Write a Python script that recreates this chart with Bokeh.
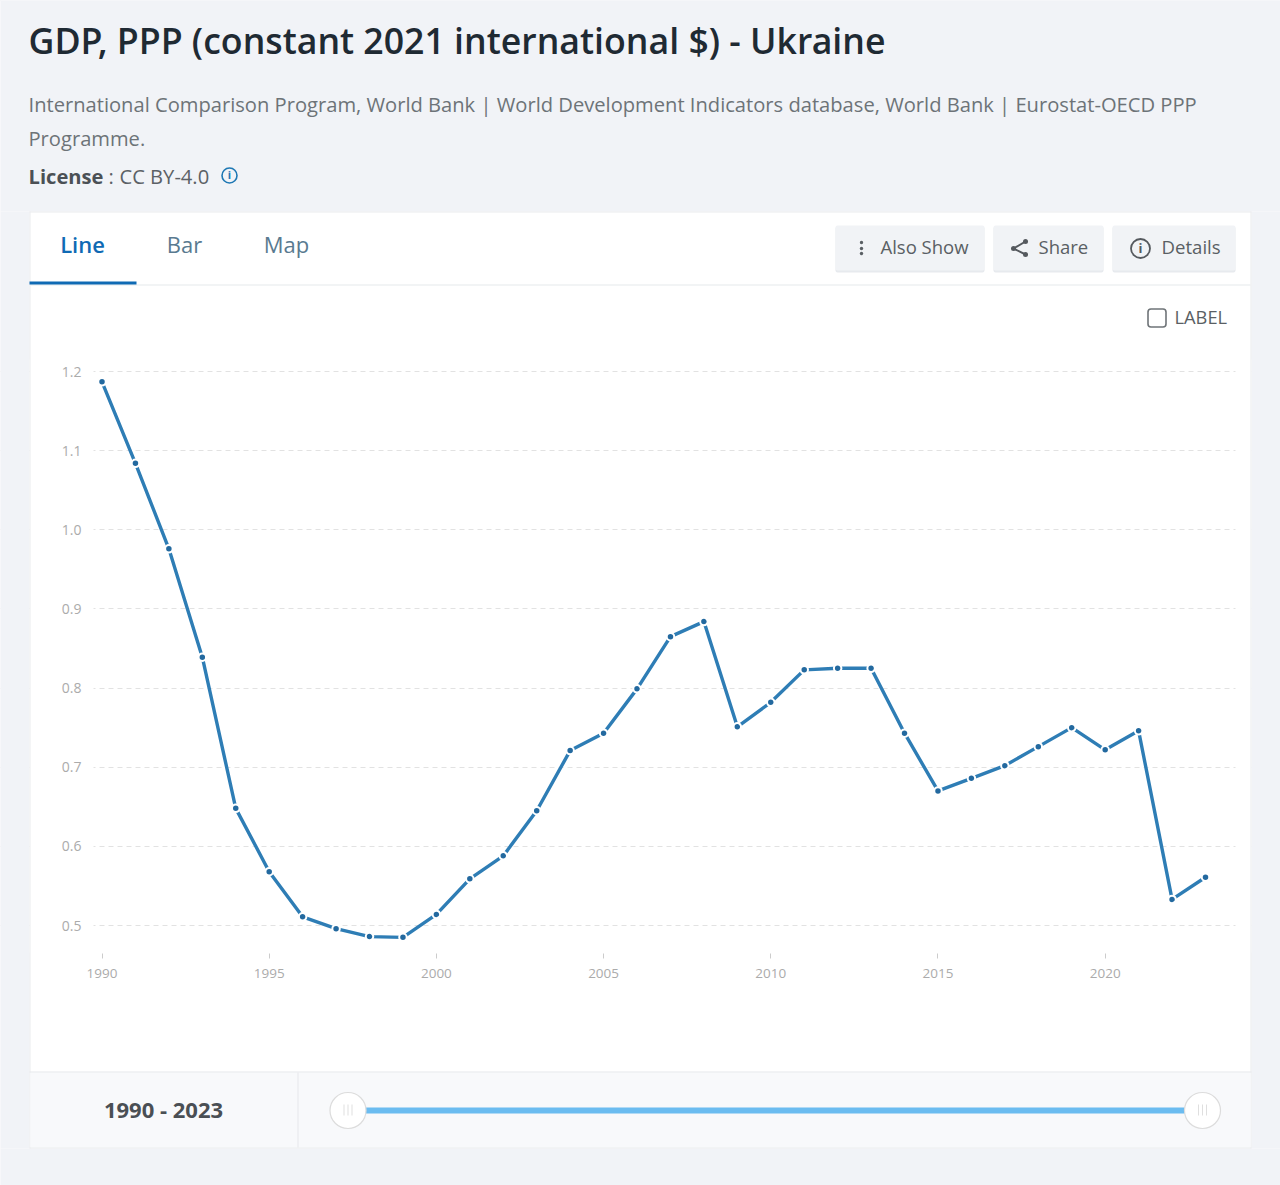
import math
from bokeh.plotting import figure
from bokeh.embed import file_html
from bokeh.resources import INLINE
from bokeh.models import (BoxAnnotation, Label, PolyAnnotation, Range1d, FixedTicker,
                          NumeralTickFormatter, BasicTickFormatter)

TITLE = "GDP, PPP (constant 2021 international $) - Ukraine"
SOURCE_1 = "International Comparison Program, World Bank | World Development Indicators database, World Bank | Eurostat-OECD PPP"
SOURCE_2 = "Programme."
years = list(range(1990, 2024))
gdp = [1.187, 1.084, 0.976, 0.839, 0.648, 0.568, 0.511, 0.496, 0.486, 0.485,
       0.514, 0.559, 0.588, 0.645, 0.721, 0.743, 0.799, 0.865, 0.884, 0.751,
       0.782, 0.823, 0.825, 0.825, 0.743, 0.670, 0.686, 0.702, 0.726, 0.750,
       0.722, 0.746, 0.533, 0.561]
y_ticks = [0.5, 0.6, 0.7, 0.8, 0.9, 1.0, 1.1, 1.2]
x_ticks = [1990, 1995, 2000, 2005, 2010, 2015, 2020]

W, H = 1280, 1185
PLOT_L, PLOT_R, PLOT_T, PLOT_B = 93, 1235, 360, 953
PX_YEAR = (1205 - 101.5) / 33
PX_UNIT = (925 - 371) / 0.7
BG = "#f1f3f7"
FONT = "Open Sans"

# the plot frame fills the whole canvas: annotations are clipped to it
x_range = Range1d(1990 - 101.5 / PX_YEAR, 2023 + (W - 1205) / PX_YEAR)
y_range = Range1d(0.5 - (H - 925) / PX_UNIT, 1.2 + 371 / PX_UNIT)

p = figure(width=W, height=H, output_backend="svg", toolbar_location=None,
           x_range=x_range, y_range=y_range,
           min_border_left=0, min_border_right=0, min_border_top=0, min_border_bottom=0,
           border_fill_color="#ffffff", background_fill_color="#ffffff", outline_line_color=None)


def sy(y):
    return H - y + 1


def box(l, t, r, b, fill, line=None, lw=1, radius=0):
    p.add_layout(BoxAnnotation(left=l, right=r, top=sy(t), bottom=sy(b),
                               left_units="screen", right_units="screen",
                               top_units="screen", bottom_units="screen",
                               fill_color=fill, fill_alpha=1 if fill else 0,
                               line_color=line, line_alpha=1, line_width=lw,
                               border_radius=int(math.ceil(radius)),
                               level="annotation", editable=False))


def label(x, y, text, size, color, style="normal", align="left", font=FONT):
    p.add_layout(Label(x=x - 1, y=sy(y) + 1, x_units="screen", y_units="screen", text=text,
                       text_font=font, text_font_size=f"{size}px", text_color=color,
                       text_font_style=style, text_align=align, text_baseline="middle",
                       level="annotation"))


def circle(cx, cy, r, fill, line=None, lw=1):
    box(cx - r, cy - r, cx + r, cy + r, fill, line, lw, r)


def poly(xs, ys, color, lw):
    p.add_layout(PolyAnnotation(xs=list(xs), ys=[sy(y) for y in ys],
                                xs_units="screen", ys_units="screen",
                                fill_alpha=0, line_color=color, line_alpha=1, line_width=lw,
                                level="annotation", editable=False))


# page background around the white card
CARD_L, CARD_T, CARD_R, CARD_B = 29, 212, 1251, 1149
box(0, -2, W, CARD_T, BG)
box(0, CARD_B, W, H + 2, BG)
box(0, CARD_T, CARD_L, CARD_B, BG)
box(CARD_R, CARD_T, W, CARD_B, BG)
# white margins that bound the grid lines to the plot area
box(CARD_L, PLOT_T, PLOT_L, PLOT_B, "#ffffff")
box(PLOT_R, PLOT_T, CARD_R, PLOT_B, "#ffffff")
# card edges and panels
box(CARD_L, CARD_T, CARD_R, CARD_T + 1, "#e9ebee")
box(CARD_L, CARD_T, CARD_L + 1, CARD_B, "#e9ebee")
box(CARD_R - 1, CARD_T, CARD_R, CARD_B, "#e9ebee")
box(30, 1073, 1250, 1148, "#f8f9fb")
box(CARD_L, 1148, CARD_R, 1149, "#e9ebee")
box(29, 1072, 1251, 1073, "#e6e8eb")
box(297, 1073, 298, 1148, "#e6e8eb")
box(30, 285, 1250, 286, "#e6e9ec")
box(29, 282, 136, 285, "#0f6ab4")

# heading
label(29, 41, TITLE, 35.7, "#1f2a33", font="Open Sans SemiBold")
label(29, 105, SOURCE_1, 20.15, "#6d7378")
label(29, 139, SOURCE_2, 20.15, "#6d7378")
label(29, 177, "License", 20.15, "#4b5055", "bold")
label(109, 177, ":", 20.15, "#5c6166")
label(120, 177, "CC BY-4.0", 20.15, "#5c6166")
circle(229, 176, 7.5, None, "#1f78b4", 1.6)
label(230, 176, "i", 11, "#1f78b4", "bold", "center")

# tabs
label(83, 245, "Line", 22, "#0f6ab4", font="Open Sans SemiBold", align="center")
label(185, 245, "Bar", 22, "#597a90", align="center")
label(287, 245, "Map", 22, "#597a90", align="center")

# buttons
for l, r in [(835, 984), (993, 1103), (1112, 1235)]:
    box(l, 227, r, 273, "#e7eaee", radius=2)
    box(l, 226, r, 271, "#f1f3f6", radius=2)
label(881, 248, "Also Show", 18.5, "#5a5f64")
label(1039, 248, "Share", 18.5, "#5a5f64")
label(1162, 248, "Details", 18.6, "#5a5f64")
for y in (243, 249, 254):
    circle(861, y, 1.7, "#5a5f64")
poly([1025, 1013, 1025, 1013], [242, 249, 255, 249], "#55595e", 2)
for x, y, r in [(1025, 242, 2.5), (1013, 249, 2.5), (1025, 255, 2.5)]:
    circle(x, y, r, "#55595e")
circle(1140, 249, 9.5, None, "#55595e", 1.8)
label(1141, 249, "i", 13, "#55595e", "bold", "center")

# LABEL checkbox
box(1147.5, 309.5, 1165.5, 327.5, "#ffffff", "#6f7478", 1.6, 3)
label(1175, 318, "LABEL", 18.3, "#5a5f64")

# range slider
label(164, 1110, "1990 - 2023", 22, "#4a4f54", "bold", "center")
box(362, 1108, 1188, 1114, "#6bbcf0")
for cx in (347.5, 1202):
    circle(cx, 1111, 18, "#ffffff", "#dcdcdc", 1.2)
    for dx in (-4, 0, 4):
        box(cx + dx - 0.4, 1105, cx + dx + 0.4, 1116, "#d8d8d8")

# axes and grid
xa = p.xaxis[0]
xa.level = "overlay"
xa.fixed_location = 0.5 - (PLOT_B - 925) / PX_UNIT
xa.ticker = FixedTicker(ticks=x_ticks)
xa.formatter = BasicTickFormatter(use_scientific=False)
xa.axis_line_color = None
xa.major_tick_line_color = "#cccccc"
xa.major_tick_in = 0
xa.major_tick_out = 5
xa.minor_tick_line_color = None
xa.major_label_text_font = FONT
xa.major_label_text_font_size = "13.5px"
xa.major_label_text_color = "#ababab"
xa.major_label_standoff = 10

ya = p.yaxis[0]
ya.level = "overlay"
ya.fixed_location = 1990 - (101.5 - PLOT_L) / PX_YEAR
ya.ticker = FixedTicker(ticks=y_ticks)
ya.formatter = NumeralTickFormatter(format="0.0")
ya.axis_line_color = None
ya.major_tick_line_color = None
ya.minor_tick_line_color = None
ya.major_tick_in = 0
ya.major_tick_out = 0
ya.major_label_text_font = FONT
ya.major_label_text_font_size = "14px"
ya.major_label_text_color = "#ababab"
ya.major_label_standoff = 12

p.xgrid.grid_line_color = None
p.ygrid.grid_line_color = "#e2e2e2"
p.ygrid.grid_line_dash = "5 4"
p.ygrid.grid_line_width = 1

# series
p.line(years, gdp, line_color="#2e7db5", line_width=3.4)
p.scatter(years, gdp, size=7.5, marker="circle", fill_color="#23699f",
          line_color="#ffffff", line_width=2)

open("out.html", "w").write(file_html(p, INLINE, template="""
{% block preamble %}<style>html,body{background:#f1f3f7;}</style>{% endblock %}
"""))
